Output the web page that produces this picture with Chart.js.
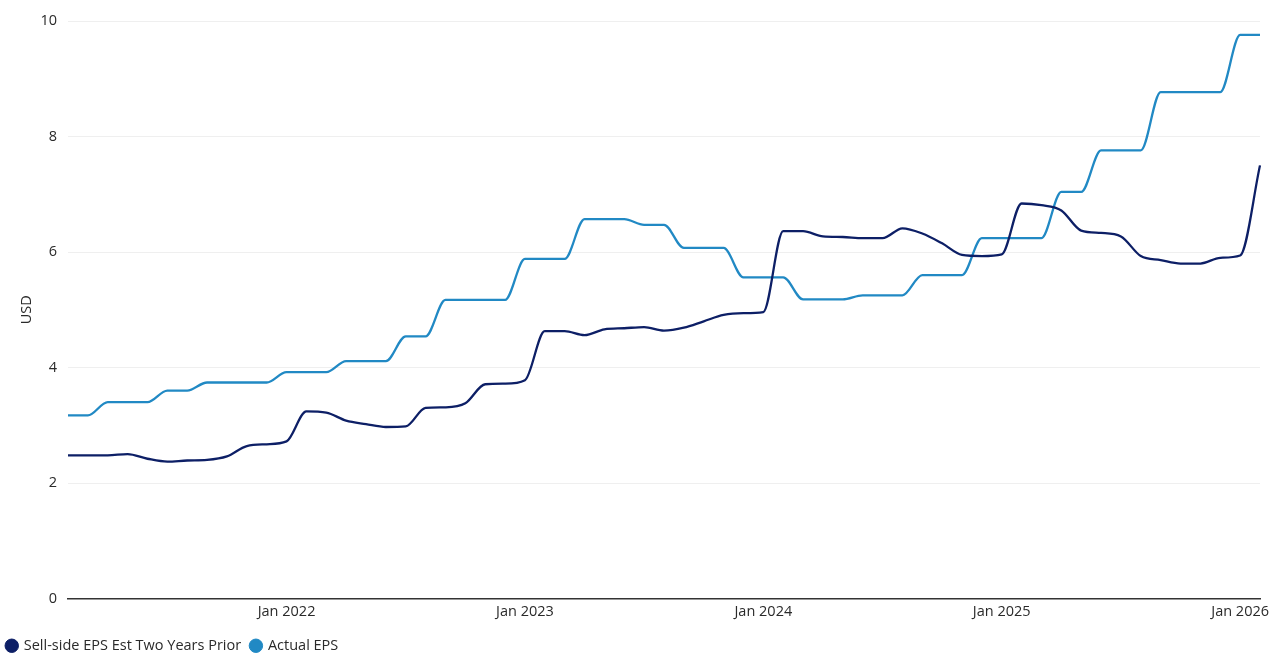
<!DOCTYPE html>
<html>
<head>
<meta charset="utf-8">
<script src="https://cdn.jsdelivr.net/npm/chart.js@4"></script>
<style>
  html, body { margin: 0; padding: 0; background: #fff; }
  #wrap { width: 1279px; height: 653px; }
</style>
</head>
<body>
<div id="wrap"><canvas id="eps"></canvas></div>
<script>
const monthNames = ["Jan","Feb","Mar","Apr","May","Jun","Jul","Aug","Sep","Oct","Nov","Dec"];

// monthly, Feb 2021 .. Feb 2026
const months = [];
for (let y = 2021, m = 1; months.length < 61; m++) {
  if (m === 12) { m = 0; y++; }
  months.push(`${monthNames[m]} ${y}`);
}

const estTwoYearsPrior = [
  2.48, 2.48, 2.48, 2.50, 2.42, 2.37, 2.39, 2.40, 2.46, 2.64, 2.67,
  2.72, 3.24, 3.22, 3.08, 3.02, 2.97, 2.98, 3.30, 3.31, 3.38, 3.71, 3.72,
  3.78, 4.63, 4.63, 4.56, 4.66, 4.68, 4.70, 4.64, 4.69, 4.80, 4.91, 4.94,
  4.96, 6.36, 6.36, 6.27, 6.26, 6.24, 6.24, 6.41, 6.32, 6.15, 5.95, 5.93,
  5.96, 6.84, 6.81, 6.72, 6.37, 6.33, 6.27, 5.93, 5.86, 5.80, 5.80, 5.90,
  5.94, 7.50
];

const actualEps = [
  3.17, 3.17, 3.40, 3.40, 3.40, 3.60, 3.60, 3.74, 3.74, 3.74, 3.74,
  3.92, 3.92, 3.92, 4.11, 4.11, 4.11, 4.54, 4.54, 5.17, 5.17, 5.17, 5.17,
  5.88, 5.88, 5.88, 6.57, 6.57, 6.57, 6.47, 6.47, 6.07, 6.07, 6.07, 5.56,
  5.56, 5.56, 5.18, 5.18, 5.18, 5.25, 5.25, 5.25, 5.60, 5.60, 5.60, 6.24,
  6.24, 6.24, 6.24, 7.04, 7.04, 7.76, 7.76, 7.76, 8.77, 8.77, 8.77, 8.77,
  9.76, 9.76
];

const yTicks = [0, 2, 4, 6, 8, 10];

Chart.defaults.font.family = "'Open Sans', sans-serif";
Chart.defaults.font.size = 14.5;
Chart.defaults.color = "#2a2a2a";

new Chart(document.getElementById("eps"), {
  type: "line",
  data: {
    labels: months,
    datasets: [
      { label: "Sell-side EPS Est Two Years Prior", data: estTwoYearsPrior,
        borderColor: "#0d1f66", backgroundColor: "#0d1f66" },
      { label: "Actual EPS", data: actualEps,
        borderColor: "#2189c4", backgroundColor: "#2189c4" }
    ]
  },
  options: {
    responsive: true,
    maintainAspectRatio: false,
    animation: false,
    // negative bottom padding pulls the legend down to the edge
    layout: { padding: { top: 21, right: 19, left: -3, bottom: -10 } },
    elements: {
      line: { borderWidth: 2.3, cubicInterpolationMode: "monotone" },
      point: { radius: 0 }
    },
    scales: {
      x: {
        offset: false,
        grid: { display: false, drawTicks: false },
        border: { display: true, color: "#333", width: 1.5 },
        afterFit: s => { s.height = 30; },
        ticks: {
          autoSkip: false, maxRotation: 0, padding: 5,
          callback: function (v) {
            const lab = this.getLabelForValue(v);
            return lab.startsWith("Jan") && lab !== "Jan 2021" ? lab : null;
          }
        }
      },
      y: {
        min: 0, max: 10,
        afterBuildTicks: s => { s.ticks = yTicks.map(v => ({ value: v })); },
        afterFit: s => { s.width = 71; },
        grid: { color: "#efefef", drawTicks: false },
        border: { display: false },
        ticks: { padding: 11 },
        title: { display: true, text: "USD", padding: { top: 21, bottom: 0 } }
      }
    },
    plugins: {
      legend: {
        position: "bottom", align: "start",
        labels: { usePointStyle: true, pointStyle: "circle", boxWidth: 9.5, boxHeight: 9.5,
          padding: 10 }
      },
      tooltip: { enabled: false }
    }
  }
});
</script>
</body>
</html>
